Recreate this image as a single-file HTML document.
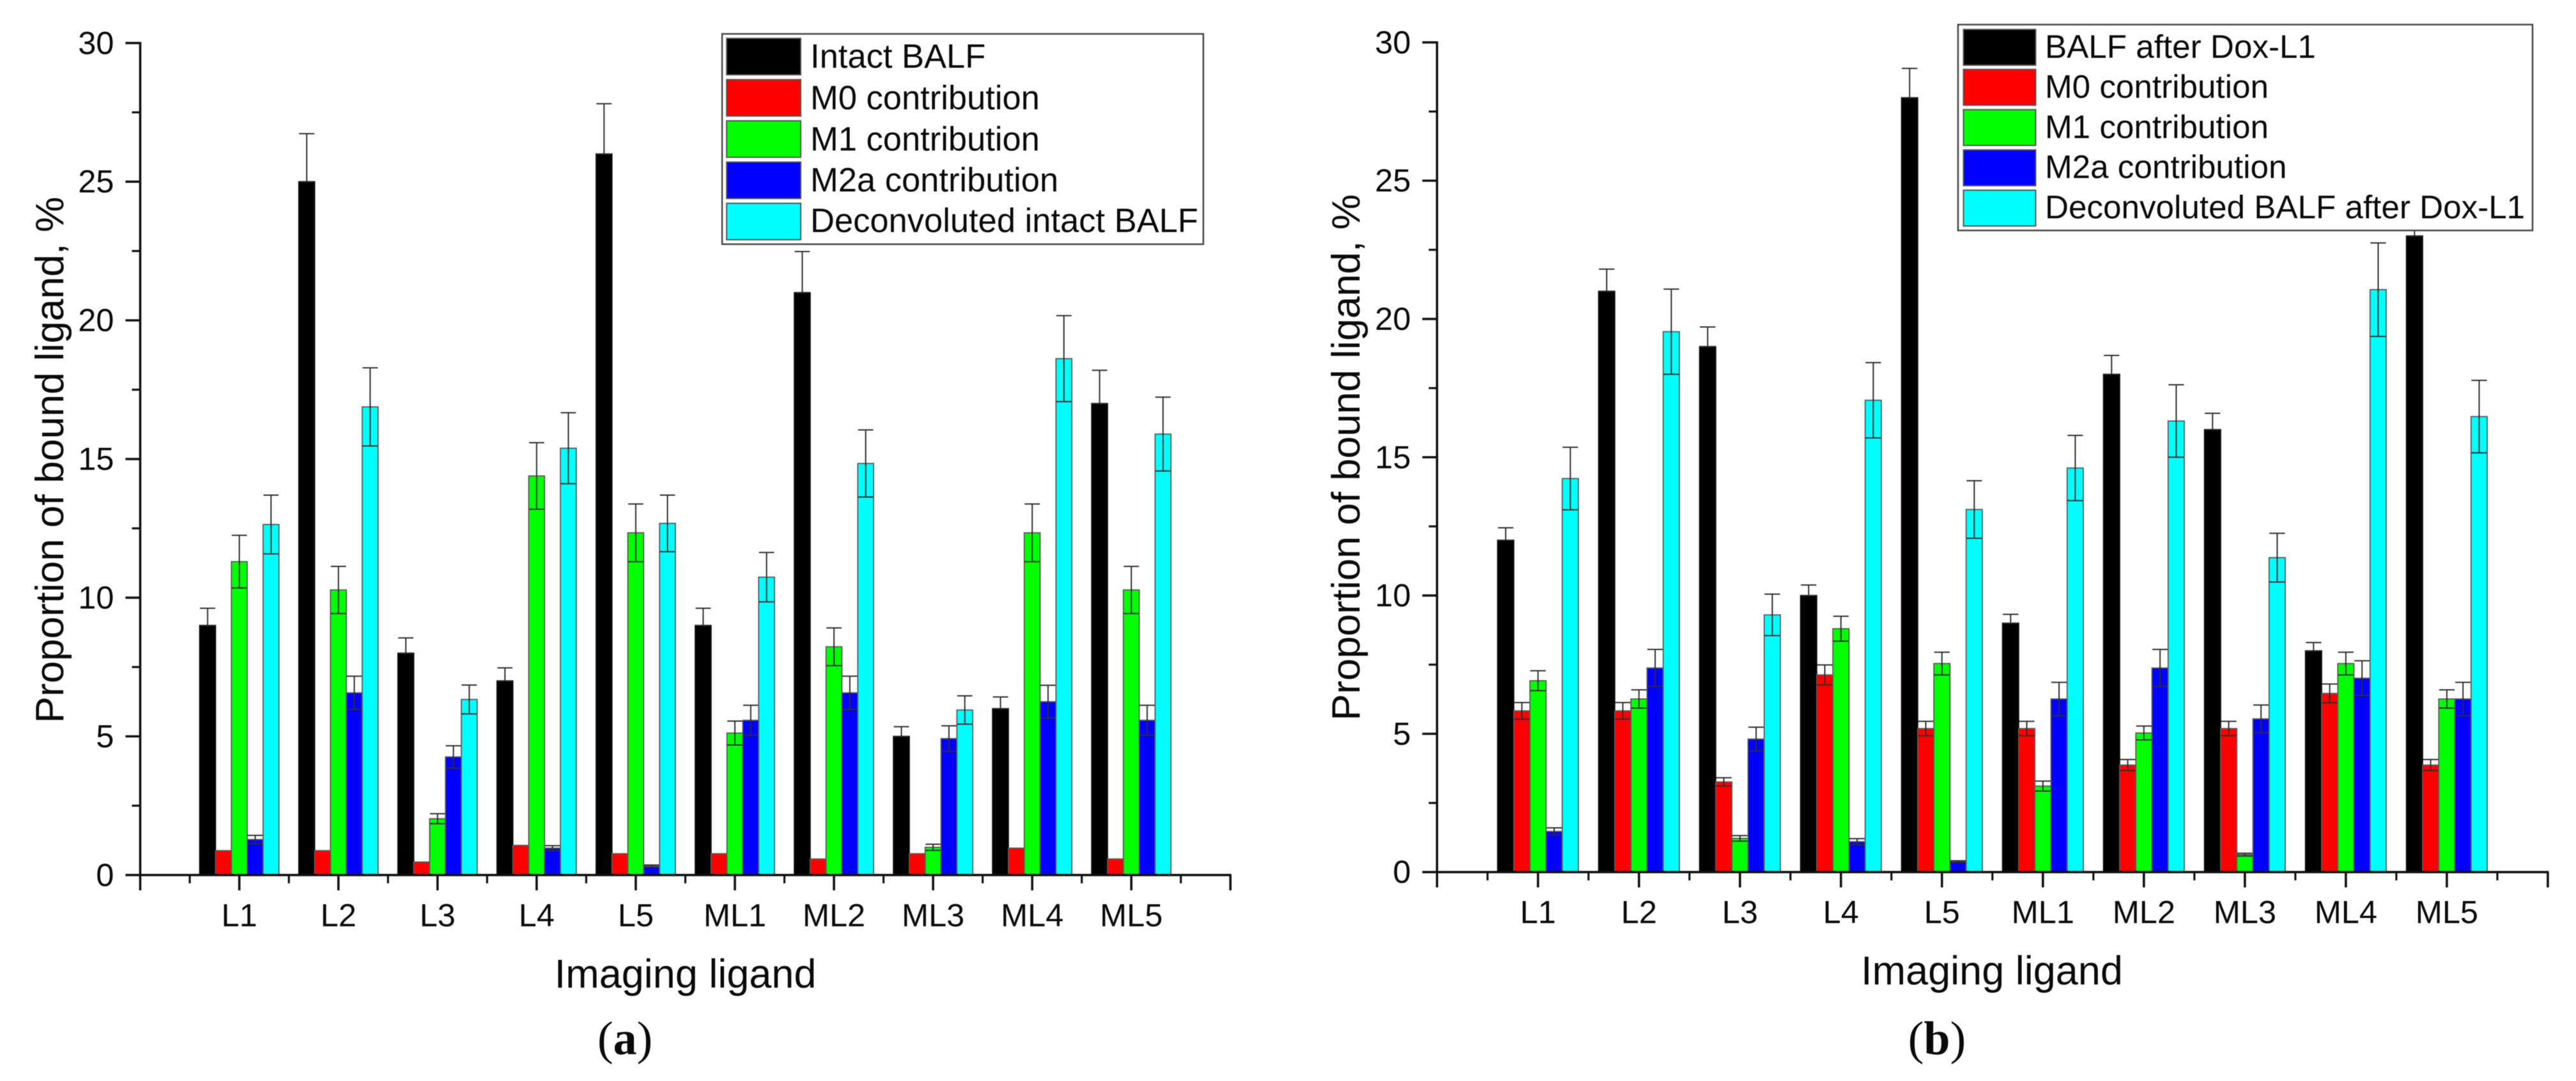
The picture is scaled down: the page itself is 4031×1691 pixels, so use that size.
<!DOCTYPE html>
<html lang="en">
<head>
<meta charset="utf-8">
<title>Proportion of bound ligand: intact BALF and BALF after Dox-L1</title>
<style>
  html, body { margin: 0; padding: 0; background: #ffffff; }
  svg { display: block; font-family: "Liberation Sans", Arial, sans-serif; fill: #0a0a0a; filter: blur(0.6px); }
  .legend-text { font-size: 52.5px; }
  .legend-text-b { font-size: 51.2px; }
  .axis-title-y { font-size: 62.5px; }
  .axis-title-x { font-size: 63px; }
  .panel-label { font-family: "Liberation Serif", "Times New Roman", serif; font-size: 74px; }
</style>
</head>
<body>
<svg id="figure" xmlns="http://www.w3.org/2000/svg" width="4031" height="1691" viewBox="0 0 4031 1691">
  <rect x="0" y="0" width="4031" height="1691" fill="#ffffff"/>

  <g id="chart-a"></g>
  <text class="axis-title-y" transform="translate(99 719.5) rotate(-90)" text-anchor="middle">Proportion of bound ligand, %</text>
  <text class="axis-title-x" x="1072.5" y="1545" text-anchor="middle">Imaging ligand</text>
  <text class="panel-label" x="978" y="1649" text-anchor="middle">(<tspan font-weight="bold">a</tspan>)</text>

  <g>
    <rect x="1130" y="53" width="753" height="329" fill="#ffffff" stroke="#444444" stroke-width="2.5"/>
    <rect x="1137" y="60" width="116" height="57" fill="#000000" stroke="#555555" stroke-width="2"/>
    <text class="legend-text" x="1268" y="106">Intact BALF</text>
    <rect x="1137" y="124.500" width="116" height="57" fill="#ff0000" stroke="#555555" stroke-width="2"/>
    <text class="legend-text" x="1268" y="171">M0 contribution</text>
    <rect x="1137" y="189" width="116" height="57" fill="#00ff00" stroke="#555555" stroke-width="2"/>
    <text class="legend-text" x="1268" y="235.500">M1 contribution</text>
    <rect x="1137" y="253.500" width="116" height="57" fill="#0000ff" stroke="#555555" stroke-width="2"/>
    <text class="legend-text" x="1268" y="299.500">M2a contribution</text>
    <rect x="1137" y="318" width="116" height="57" fill="#00ffff" stroke="#555555" stroke-width="2"/>
    <text class="legend-text" x="1268" y="363">Deconvoluted intact BALF</text>
  </g>

  <g id="chart-b"></g>
  <text class="axis-title-y" transform="translate(2127.5 715.5) rotate(-90)" text-anchor="middle">Proportion of bound ligand, %</text>
  <text class="axis-title-x" x="3117" y="1540" text-anchor="middle">Imaging ligand</text>
  <text class="panel-label" x="3031" y="1649" text-anchor="middle">(<tspan font-weight="bold">b</tspan>)</text>

  <g>
    <rect x="3064" y="38.500" width="899" height="322" fill="#ffffff" stroke="#444444" stroke-width="2.5"/>
    <rect x="3072.500" y="46" width="113" height="56" fill="#000000" stroke="#555555" stroke-width="2"/>
    <text class="legend-text-b" x="3200" y="90.500">BALF after Dox-L1</text>
    <rect x="3072.500" y="108.500" width="113" height="56" fill="#ff0000" stroke="#555555" stroke-width="2"/>
    <text class="legend-text-b" x="3200" y="153">M0 contribution</text>
    <rect x="3072.500" y="171.500" width="113" height="56" fill="#00ff00" stroke="#555555" stroke-width="2"/>
    <text class="legend-text-b" x="3200" y="216">M1 contribution</text>
    <rect x="3072.500" y="234.500" width="113" height="56" fill="#0000ff" stroke="#555555" stroke-width="2"/>
    <text class="legend-text-b" x="3200" y="278.500">M2a contribution</text>
    <rect x="3072.500" y="297.500" width="113" height="56" fill="#00ffff" stroke="#555555" stroke-width="2"/>
    <text class="legend-text-b" x="3200" y="341.500">Deconvoluted BALF after Dox-L1</text>
  </g>
</svg>

<script>
// ---------- shared categories and tick labels ----------
const categories = ['L1', 'L2', 'L3', 'L4', 'L5', 'ML1', 'ML2', 'ML3', 'ML4', 'ML5'];
const yTickValues = [0, 5, 10, 15, 20, 25, 30];
const yTickLabels = ['0', '5', '10', '15', '20', '25', '30'];
const seriesKeys = ['balf', 'm0', 'm1', 'm2a', 'deconvoluted'];
const seriesColors = ['#000000', '#ff0000', '#00ff00', '#0000ff', '#00ffff'];

// ---------- chart (a): intact BALF ----------
const aBalf = [9, 25, 8, 7, 26, 9, 21, 5, 6, 17];
const aBalfErr = [0.62, 1.73, 0.55, 0.47, 1.81, 0.62, 1.48, 0.35, 0.42, 1.2];
const aM0 = [0.88, 0.88, 0.47, 1.07, 0.77, 0.77, 0.58, 0.77, 0.97, 0.58];
const aM0Err = [0, 0, 0, 0, 0, 0, 0, 0, 0, 0];
const aM1 = [11.3, 10.28, 2.03, 14.39, 12.34, 5.12, 8.23, 1.0, 12.34, 10.28];
const aM1Err = [0.95, 0.85, 0.18, 1.2, 1.04, 0.43, 0.68, 0.11, 1.04, 0.85];
const aM2a = [1.28, 6.57, 4.26, 0.97, 0.32, 5.58, 6.57, 4.92, 6.25, 5.58];
const aM2aErr = [0.15, 0.6, 0.4, 0.09, 0.04, 0.54, 0.6, 0.46, 0.59, 0.54];
const aDeconv = [12.64, 16.88, 6.33, 15.39, 12.68, 10.74, 14.84, 5.95, 18.62, 15.9];
const aDeconvErr = [1.06, 1.41, 0.52, 1.28, 1.02, 0.89, 1.21, 0.51, 1.55, 1.33];

// ---------- chart (b): BALF after Dox-L1 ----------
const bBalf = [12, 21, 19, 10, 28, 9, 18, 16, 8, 23];
const bBalfErr = [0.45, 0.8, 0.71, 0.38, 1.06, 0.32, 0.68, 0.59, 0.3, 1.2];
const bM0 = [5.83, 5.83, 3.26, 7.13, 5.19, 5.19, 3.87, 5.19, 6.46, 3.87];
const bM0Err = [0.3, 0.3, 0.15, 0.36, 0.26, 0.26, 0.2, 0.26, 0.34, 0.2];
const bM1 = [6.92, 6.26, 1.22, 8.8, 7.54, 3.11, 5.03, 0.63, 7.54, 6.26];
const bM1Err = [0.36, 0.33, 0.1, 0.45, 0.41, 0.18, 0.25, 0.05, 0.41, 0.33];
const bM2a = [1.47, 7.38, 4.81, 1.1, 0.38, 6.26, 7.38, 5.54, 7.01, 6.26];
const bM2aErr = [0.13, 0.67, 0.43, 0.11, 0.03, 0.6, 0.67, 0.5, 0.63, 0.6];
const bDeconv = [14.23, 19.54, 9.3, 17.06, 13.11, 14.61, 16.31, 11.37, 21.06, 16.47];
const bDeconvErr = [1.13, 1.54, 0.75, 1.36, 1.04, 1.18, 1.31, 0.88, 1.69, 1.31];

const SVG_NS = 'http://www.w3.org/2000/svg';

function line(parent, x1, y1, x2, y2, stroke, width) {
  const el = document.createElementNS(SVG_NS, 'line');
  el.setAttribute('x1', x1);
  el.setAttribute('y1', y1);
  el.setAttribute('x2', x2);
  el.setAttribute('y2', y2);
  el.setAttribute('stroke', stroke);
  el.setAttribute('stroke-width', width);
  parent.appendChild(el);
  return el;
}

function drawChart(parentId, prefix, layout, values, errors) {
  const root = document.getElementById(parentId);
  const xMax = categories.length + 1;
  const yMax = yTickValues[yTickValues.length - 1];

  // axis functions
  const xScale = v => layout.left + (v / xMax) * (layout.right - layout.left);
  const yScale = v => layout.bottom - (v / yMax) * (layout.bottom - layout.top);

  const slot = (xScale(1) - xScale(0)) * 0.8;
  const barWidth = slot / values.length;

  // bars first, then error bars on top of them
  values.forEach((series, s) => {
    const group = document.createElementNS(SVG_NS, 'g');
    
    
    root.appendChild(group);

    series.forEach((value, c) => {
      const barLeft = xScale(c + 1) - slot / 2 + s * barWidth;
      const rect = document.createElementNS(SVG_NS, 'rect');
      
      
      rect.setAttribute('x', barLeft);
      rect.setAttribute('y', yScale(value));
      rect.setAttribute('width', barWidth);
      rect.setAttribute('height', yScale(0) - yScale(value));
      rect.setAttribute('fill', seriesColors[s]);
      rect.setAttribute('stroke', s === 0 ? '#111111' : '#5a5a5a');
      rect.setAttribute('stroke-width', 1.8);
      group.appendChild(rect);

      const err = errors[s][c];
      if (err > 0) {
        const cx = barLeft + barWidth / 2;
        const capHalf = barWidth * 0.48;
        const yHigh = yScale(value + err);
        const yLow = s === 0 ? yScale(value) : yScale(Math.max(value - err, 0));
        const errGroup = document.createElementNS(SVG_NS, 'g');
        
        
        group.appendChild(errGroup);
        line(errGroup, cx, yHigh, cx, yLow, '#2e2e2e', 2);
        line(errGroup, cx - capHalf, yHigh, cx + capHalf, yHigh, '#2e2e2e', 2);
        line(errGroup, cx - capHalf, yLow, cx + capHalf, yLow, '#2e2e2e', 2);
      }
    });
  });

  // y axis
  const yAxis = document.createElementNS(SVG_NS, 'g');
  
  
  root.appendChild(yAxis);
  line(yAxis, xScale(0), yScale(yMax) - 1.5, xScale(0), yScale(0) + 1.5, '#111111', 3.6);

  yTickValues.forEach((tick, i) => {
    line(yAxis, xScale(0) - 23, yScale(tick), xScale(0), yScale(tick), '#111111', 3.6);
    if (i < yTickValues.length - 1) {
      const mid = (tick + yTickValues[i + 1]) / 2;
      line(yAxis, xScale(0) - 13, yScale(mid), xScale(0), yScale(mid), '#111111', 3.2);
    }
    const label = document.createElementNS(SVG_NS, 'text');
    
    
    label.setAttribute('x', xScale(0) - 41);
    label.setAttribute('y', yScale(tick) + 17);
    label.setAttribute('text-anchor', 'end');
    label.setAttribute('font-size', '50.5');
    label.textContent = yTickLabels[i];
    yAxis.appendChild(label);
  });

  // x axis
  const xAxis = document.createElementNS(SVG_NS, 'g');
  
  
  root.appendChild(xAxis);
  line(xAxis, xScale(0) - 1.5, yScale(0), xScale(xMax) + 1.5, yScale(0), '#111111', 3.6);

  for (let i = 0; i <= xMax; i++) {
    line(xAxis, xScale(i), yScale(0), xScale(i), yScale(0) + 24, '#111111', 3.6);
    if (i < xMax) {
      line(xAxis, xScale(i + 0.5), yScale(0), xScale(i + 0.5), yScale(0) + 13, '#111111', 3.2);
    }
  }
  categories.forEach((name, c) => {
    const label = document.createElementNS(SVG_NS, 'text');
    
    
    label.setAttribute('x', xScale(c + 1));
    label.setAttribute('y', layout.tickBaseline);
    label.setAttribute('text-anchor', 'middle');
    label.setAttribute('font-size', '50.5');
    label.textContent = name;
    xAxis.appendChild(label);
  });
}

drawChart('chart-a', 'chart-a',
  { left: 219.4, right: 1925.4, top: 67.3, bottom: 1368.8, tickBaseline: 1449 },
  [aBalf, aM0, aM1, aM2a, aDeconv],
  [aBalfErr, aM0Err, aM1Err, aM2aErr, aDeconvErr]);

drawChart('chart-b', 'chart-b',
  { left: 2248.7, right: 3986.9, top: 66.3, bottom: 1364.2, tickBaseline: 1444 },
  [bBalf, bM0, bM1, bM2a, bDeconv],
  [bBalfErr, bM0Err, bM1Err, bM2aErr, bDeconvErr]);
</script>
</body>
</html>
